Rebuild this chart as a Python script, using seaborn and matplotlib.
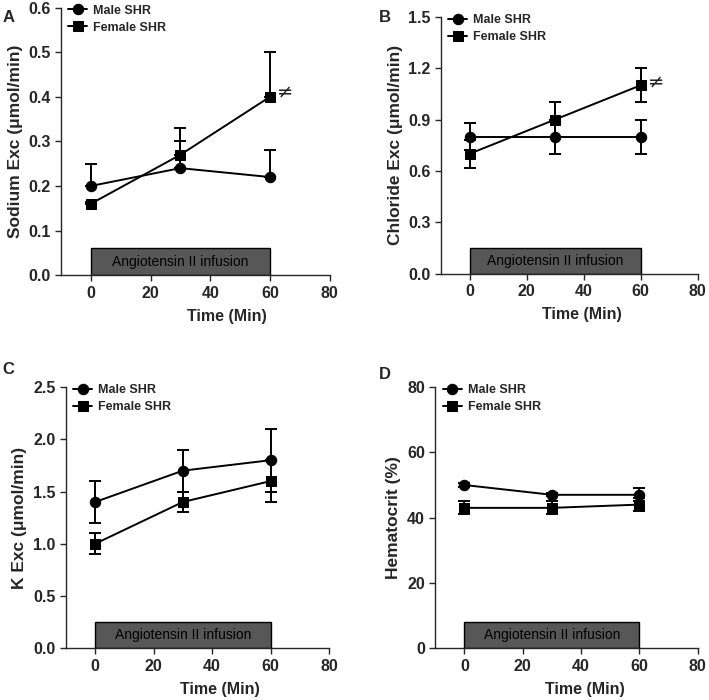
import numpy as np
import pandas as pd
import matplotlib
matplotlib.use("Agg")
import matplotlib.pyplot as plt
import matplotlib.patches as mpatches
import seaborn as sns

sns.set_theme(style="ticks")
plt.rcParams['font.family'] = ['Liberation Sans', 'DejaVu Sans']

# Data
time = [0, 30, 60]
groups = ["Male SHR", "Female SHR"]

sodium_male = [0.20, 0.24, 0.22]
sodium_male_err = [0.05, 0.06, 0.06]
sodium_female = [0.16, 0.27, 0.40]
sodium_female_err = [0.005, 0.06, 0.10]

chloride_male = [0.80, 0.80, 0.80]
chloride_male_err = [0.08, 0.10, 0.10]
chloride_female = [0.70, 0.90, 1.10]
chloride_female_err = [0.08, 0.10, 0.10]

k_male = [1.4, 1.7, 1.8]
k_male_err = [0.2, 0.2, 0.3]
k_female = [1.0, 1.4, 1.6]
k_female_err = [0.1, 0.1, 0.2]

hct_male = [50, 47, 47]
hct_male_err = [0.5, 0.5, 2]
hct_female = [43, 43, 44]
hct_female_err = [2, 2, 2]

panels = [
    dict(letter="A", ylabel="Sodium Exc (\u03bcmol/min)", ylim=0.6, yticks=[0.0, 0.1, 0.2, 0.3, 0.4, 0.5, 0.6],
         fmt="{:.1f}", male=sodium_male, male_err=sodium_male_err,
         female=sodium_female, female_err=sodium_female_err, upper_only=True, star=0.41,
         pos=[0.086, 0.607, 0.379, 0.382], letter_xy=(0.004, 0.985), xlab_x=0.617),
    dict(letter="B", ylabel="Chloride Exc (\u03bcmol/min)", ylim=1.5, yticks=[0.0, 0.3, 0.6, 0.9, 1.2, 1.5],
         fmt="{:.1f}", male=chloride_male, male_err=chloride_male_err,
         female=chloride_female, female_err=chloride_female_err, upper_only=False, star=1.12,
         pos=[0.622, 0.609, 0.362, 0.367], letter_xy=(0.535, 0.985), xlab_x=0.549),
    dict(letter="C", ylabel="K Exc (\u03bcmol/min)", ylim=2.5, yticks=[0.0, 0.5, 1.0, 1.5, 2.0, 2.5],
         fmt="{:.1f}", male=k_male, male_err=k_male_err,
         female=k_female, female_err=k_female_err, upper_only=False, star=None,
         pos=[0.093, 0.074, 0.371, 0.373], letter_xy=(0.004, 0.483), xlab_x=0.586),
    dict(letter="D", ylabel="Hematocrit (%)", ylim=80, yticks=[0, 20, 40, 60, 80],
         fmt="{:.0f}", male=hct_male, male_err=hct_male_err,
         female=hct_female, female_err=hct_female_err, upper_only=False, star=None,
         pos=[0.614, 0.074, 0.370, 0.373], letter_xy=(0.535, 0.476), xlab_x=0.57),
]

fig = plt.figure(figsize=(7.09, 7.0), dpi=100)

for p in panels:
    ax = fig.add_axes(p["pos"])
    df = pd.DataFrame({
        "time": time * 2,
        "value": p["male"] + p["female"],
        "group": [groups[0]] * 3 + [groups[1]] * 3,
    })

    # error bars first so markers sit on top
    for vals, err in [(p["male"], p["male_err"]), (p["female"], p["female_err"])]:
        lo = np.zeros(3) if p["upper_only"] else np.array(err)
        ax.errorbar(time, vals, yerr=[lo, np.array(err)], fmt="none", ecolor="black",
                    elinewidth=1.4, capsize=4.5, capthick=1.4, zorder=2)

    sns.lineplot(data=df, x="time", y="value", hue="group", style="group",
                 markers={"Male SHR": "o", "Female SHR": "s"}, dashes=False,
                 palette={"Male SHR": "black", "Female SHR": "black"},
                 markersize=7.5, markeredgecolor="black", linewidth=1.4,
                 errorbar=None, ax=ax, zorder=3)
    # squares a bit smaller than circles
    for line in ax.get_lines():
        if line.get_marker() == "s":
            line.set_markersize(6.5)

    # infusion bar
    ax.add_patch(mpatches.Rectangle((0, 0), 60, p["ylim"] * 0.1, facecolor="#575757",
                                    edgecolor="black", linewidth=1.0, zorder=1))
    ax.text(30, p["ylim"] * 0.05, "Angiotensin II infusion", ha="center", va="center",
            fontsize=10, color="black", zorder=4)

    if p["star"] is not None:
        ax.text(62.5, p["star"], "\u2260", fontsize=14,
                ha="left", va="center", family=["DejaVu Sans"])

    ax.set_xlim(-10, 80)
    ax.set_ylim(0, p["ylim"])
    ax.set_xticks([0, 20, 40, 60, 80])
    ax.set_yticks(p["yticks"])
    ax.set_yticklabels([p["fmt"].format(v) for v in p["yticks"]])
    ax.tick_params(axis="both", labelsize=11.5, width=1.0, length=4, direction="out")
    for lab in ax.get_xticklabels() + ax.get_yticklabels():
        lab.set_fontweight("bold")
    ax.set_xlabel("Time (Min)", fontsize=11.5, fontweight="bold")
    ax_h_px = p["pos"][3] * 700
    ax.xaxis.set_label_coords(p["xlab_x"], -41 / ax_h_px)
    ax.xaxis.label.set_va("center")
    ax.set_ylabel(p["ylabel"], fontsize=12.5, fontweight="bold", labelpad=4)
    sns.despine(ax=ax)
    for s in ["left", "bottom"]:
        ax.spines[s].set_linewidth(1.0)

    leg = ax.legend(loc="upper left", bbox_to_anchor=(0.0, 1.04), frameon=False,
                    fontsize=9, handlelength=1.5, handletextpad=0.5, labelspacing=0.4,
                    borderaxespad=0.2)
    for t in leg.get_texts():
        t.set_fontweight("bold")

    fig.text(p["letter_xy"][0], p["letter_xy"][1], p["letter"], fontsize=12,
             fontweight="bold", ha="left", va="top")

fig.savefig("out.png", dpi=100)
